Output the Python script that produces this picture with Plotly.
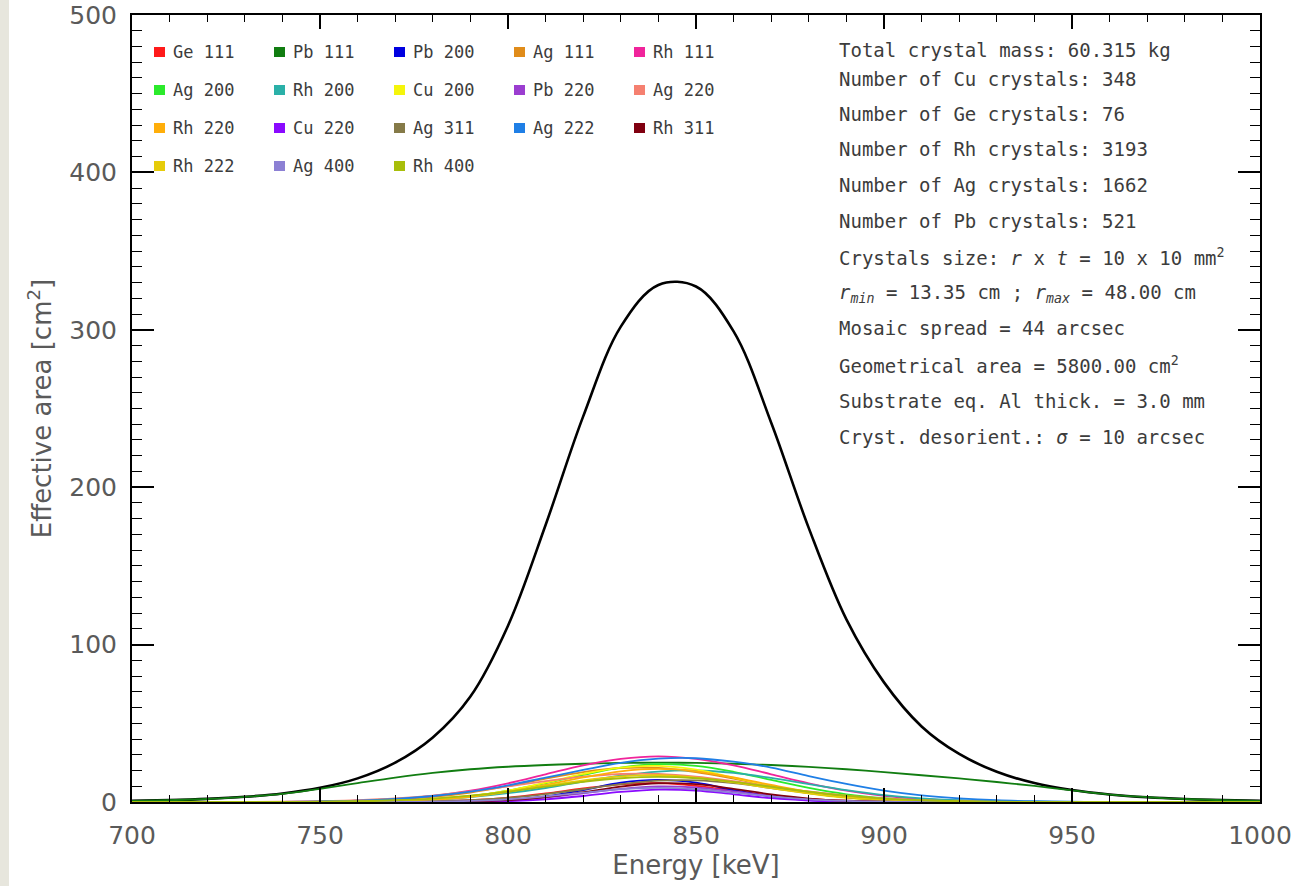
import plotly.graph_objects as go

# ---------------- data ----------------
# Total effective area of the lens (black curve)
total_energy = [700, 710, 720, 730, 740, 750, 760, 770, 780, 790, 800, 810, 820, 830, 840,
                850, 860, 870, 880, 890, 900, 910, 920, 930, 940, 950, 960, 970, 980, 990, 1000]
total_area = [0.7, 1.2, 2, 3.3, 5.4, 9, 15, 25, 41, 67, 112, 176, 245, 302, 328.5,
              327.5, 299, 241, 174, 116, 76, 48, 30.5, 19.2, 12, 7.6, 4.8, 3.0, 1.9, 1.2, 0.75]

# Contribution of each crystal reflection
energy_grid = [700, 720, 740, 750, 760, 770, 780, 790, 800, 810, 820, 830, 840, 850,
               860, 870, 880, 890, 900, 910, 920, 930, 940, 950, 960, 980, 1000]

reflections = ["Ge 111", "Pb 111", "Pb 200", "Ag 111", "Rh 111",
               "Ag 200", "Rh 200", "Cu 200", "Pb 220", "Ag 220",
               "Rh 220", "Cu 220", "Ag 311", "Ag 222", "Rh 311",
               "Rh 222", "Ag 400", "Rh 400"]

reflection_colors = ["#ff1a1a", "#117d11", "#0000e0", "#e08c1a", "#f0249b",
                     "#2bea2b", "#2ab0a8", "#f5f50a", "#9b3dd0", "#f58070",
                     "#ffae0a", "#8a0aff", "#857a48", "#1f7fe6", "#800010",
                     "#e6cc0a", "#8c80d4", "#a8be0a"]

reflection_area = [
    [0, 0, 0, 0, 0, 0.1, 0.4, 1.1, 2.7, 5.4, 8.6, 11.2, 12.0, 10.3, 7.3, 4.2, 2.0, 0.8, 0.3, 0.1, 0, 0, 0, 0, 0, 0, 0],
    [0.7, 1.9, 5.2, 8.4, 12, 15.5, 18.5, 20.8, 22.4, 23.5, 24.3, 24.8, 25, 24.8, 24.3, 23.5, 22.3, 20.8, 19, 17, 15, 12.7, 10.2, 7.4, 4.7, 1.9, 0.7],
    [0, 0, 0, 0, 0, 0, 0.05, 0.3, 1.2, 3.5, 7.6, 12.3, 14, 12.3, 7.6, 3.5, 1.2, 0.3, 0.05, 0, 0, 0, 0, 0, 0, 0, 0],
    [0, 0, 0, 0.2, 0.6, 1.5, 3.2, 6.0, 10.1, 14.8, 19.0, 21.6, 21.6, 19.0, 14.8, 10.1, 6.0, 3.2, 1.5, 0.6, 0.2, 0, 0, 0, 0, 0, 0],
    [0, 0, 0.1, 0.3, 0.8, 1.9, 3.9, 7.2, 11.9, 17.6, 23.3, 27.4, 29, 27.4, 23.3, 17.6, 11.9, 7.2, 3.9, 1.9, 0.8, 0.3, 0.1, 0, 0, 0, 0],
    [0, 0, 0, 0, 0.25, 0.7, 1.7, 3.7, 7.2, 11.9, 17.2, 21.8, 24, 23, 19.2, 14, 8.9, 4.9, 2.4, 1.0, 0.4, 0.1, 0, 0, 0, 0, 0],
    [0, 0, 0, 0.1, 0.4, 0.7, 1.5, 3.1, 5.6, 8.9, 13, 16.7, 19.3, 20, 18.5, 15.3, 11.3, 7.5, 4.4, 2.3, 1.1, 0.5, 0.2, 0, 0, 0, 0],
    [0, 0, 0, 0, 0.2, 0.6, 1.6, 3.6, 7.2, 12.3, 17.8, 21.9, 22.9, 20.5, 15.5, 10.1, 5.5, 2.6, 1.0, 0.35, 0.1, 0, 0, 0, 0, 0, 0],
    [0, 0, 0, 0, 0, 0, 0.05, 0.3, 1.1, 2.8, 5.5, 8.4, 9.9, 9.2, 6.7, 3.8, 1.6, 0.6, 0.15, 0, 0, 0, 0, 0, 0, 0, 0],
    [0, 0, 0.2, 0.5, 1.2, 2.3, 4.1, 6.7, 9.9, 13.2, 16.1, 17.8, 17.8, 16.1, 13.2, 9.9, 6.7, 4.1, 2.3, 1.2, 0.5, 0.2, 0, 0, 0, 0, 0],
    [0, 0, 0, 0, 0.2, 0.6, 1.5, 3.3, 6.4, 10.8, 15.6, 19.5, 21, 19.5, 15.6, 10.8, 6.4, 3.3, 1.5, 0.6, 0.2, 0, 0, 0, 0, 0, 0],
    [0, 0, 0, 0, 0, 0, 0, 0.1, 0.5, 1.7, 3.8, 6.4, 7.9, 7.3, 4.9, 2.4, 0.9, 0.2, 0, 0, 0, 0, 0, 0, 0, 0, 0],
    [0, 0, 0, 0, 0, 0.1, 0.4, 1.1, 2.6, 5, 8.1, 11.4, 13.6, 13.8, 12, 8.9, 5.6, 3, 1.4, 0.5, 0.15, 0, 0, 0, 0, 0, 0],
    [0, 0, 0.1, 0.4, 0.9, 2, 3.8, 6.6, 10.6, 15.5, 20.4, 24.9, 27.5, 27.8, 25.6, 21.9, 16.5, 11.5, 7.2, 4.2, 2.3, 1.1, 0.5, 0.2, 0, 0, 0],
    [0, 0, 0, 0, 0, 0, 0.1, 0.4, 1.2, 3.1, 6.2, 9.8, 11.9, 11.3, 8.4, 4.8, 2.2, 0.8, 0.2, 0, 0, 0, 0, 0, 0, 0, 0],
    [0, 0, 0, 0.1, 0.35, 0.9, 2, 3.9, 6.7, 10.3, 13.8, 16.3, 17, 15.5, 12.4, 8.8, 5.5, 3, 1.5, 0.6, 0.2, 0, 0, 0, 0, 0, 0],
    [0, 0, 0, 0, 0, 0, 0.2, 0.7, 1.7, 3.6, 5.9, 8.1, 9, 8.1, 5.9, 3.6, 1.7, 0.7, 0.2, 0, 0, 0, 0, 0, 0, 0, 0],
    [0, 0, 0, 0.2, 0.5, 1.1, 2.2, 4, 6.6, 9.7, 12.8, 15.1, 16, 15.1, 12.8, 9.7, 6.6, 4, 2.2, 1.1, 0.5, 0.2, 0, 0, 0, 0, 0],
]

info_lines = [
    "Total crystal mass: 60.315 kg",
    "Number of Cu crystals: 348",
    "Number of Ge crystals: 76",
    "Number of Rh crystals: 3193",
    "Number of Ag crystals: 1662",
    "Number of Pb crystals: 521",
    "Crystals size: <i>r</i> x <i>t</i> = 10 x 10 mm<sup>2</sup>",
    "<i>r</i><sub><i>min</i></sub> = 13.35 cm ; <i>r</i><sub><i>max</i></sub> = 48.00 cm",
    "Mosaic spread = 44 arcsec",
    "Geometrical area = 5800.00 cm<sup>2</sup>",
    "Substrate eq. Al thick. = 3.0 mm",
    "Cryst. desorient.: <i>σ</i> = 10 arcsec",
]

# ---------------- layout helpers ----------------
W, H = 1298, 886
ML, MR, MT, MB = 132, 38, 15, 84
PW, PH = W - ML - MR, H - MT - MB


def fx(px):
    return (px - ML) / PW


def fy(py):
    return (H - MB - py) / PH


FONT = "DejaVu Sans"
MONO = "DejaVu Sans Mono"
GREY = "#5a5a5a"
TEXT = "#3c3c3c"

fig = go.Figure()

fig.add_trace(go.Scatter(
    x=total_energy, y=total_area, mode="lines",
    line=dict(color="black", width=2.6, shape="spline", smoothing=1.0),
    showlegend=False, hoverinfo="skip"))

for name, color, area in zip(reflections, reflection_colors, reflection_area):
    fig.add_trace(go.Scatter(
        x=energy_grid, y=area, mode="lines", name=name,
        line=dict(color=color, width=1.8, shape="spline", smoothing=1.0),
        showlegend=False))

shapes = []
annotations = []

# legend: 5 columns, colored squares followed by labels
col_left = [154, 274, 394, 514, 634]
row_mid = [52, 90, 128, 166]
for i, (name, color) in enumerate(zip(reflections, reflection_colors)):
    cx = col_left[i % 5]
    cy = row_mid[i // 5]
    shapes.append(dict(type="rect", xref="paper", yref="paper",
                       x0=fx(cx), x1=fx(cx + 11), y0=fy(cy + 5), y1=fy(cy - 5),
                       fillcolor=color, line=dict(width=0)))
    annotations.append(dict(xref="paper", yref="paper", x=fx(cx + 17), y=fy(cy),
                            xanchor="left", yanchor="middle", showarrow=False,
                            text=name, font=dict(family=MONO, size=17, color=TEXT)))

# parameter box on the right
info_y = [50, 79, 114, 149, 185, 221, 257, 293, 328, 365, 401, 437]
for txt, yy in zip(info_lines, info_y):
    annotations.append(dict(xref="paper", yref="paper", x=fx(837), y=fy(yy),
                            xanchor="left", yanchor="middle", showarrow=False,
                            text=txt, font=dict(family=MONO, size=19, color=TEXT)))

# light strip on the far left edge of the page
shapes.append(dict(type="rect", xref="paper", yref="paper",
                   x0=fx(0), x1=fx(9), y0=fy(H), y1=fy(0),
                   fillcolor="#e7e6dd", line=dict(width=0), layer="below"))

axis_common = dict(
    showline=True, linewidth=2, linecolor="black", mirror="allticks",
    ticks="inside", tickcolor="black", tickwidth=1.5,
    showgrid=False, zeroline=False,
    tickfont=dict(family=FONT, size=25, color=GREY),
)

fig.update_layout(
    width=W, height=H,
    margin=dict(l=ML, r=MR, t=MT, b=MB, autoexpand=False),
    paper_bgcolor="white", plot_bgcolor="white",
    showlegend=False,
    xaxis=dict(range=[700, 1000], tick0=700, dtick=50, ticklen=14,
               ticklabelstandoff=10,
               minor=dict(dtick=10, ticklen=7, tickwidth=1, tickcolor="black", ticks="inside"),
               title=dict(text="Energy [keV]", font=dict(family=FONT, size=26, color=GREY), standoff=2),
               **axis_common),
    yaxis=dict(range=[0, 500], tick0=0, dtick=100, ticklen=22,
               ticklabelstandoff=8,
               minor=dict(dtick=10, ticklen=10, tickwidth=1, tickcolor="black", ticks="inside"),
               title=dict(text="Effective area [cm<sup>2</sup>]", font=dict(family=FONT, size=26, color=GREY), standoff=10),
               **axis_common),
    shapes=shapes,
    annotations=annotations,
)

fig.write_html("out.html")
